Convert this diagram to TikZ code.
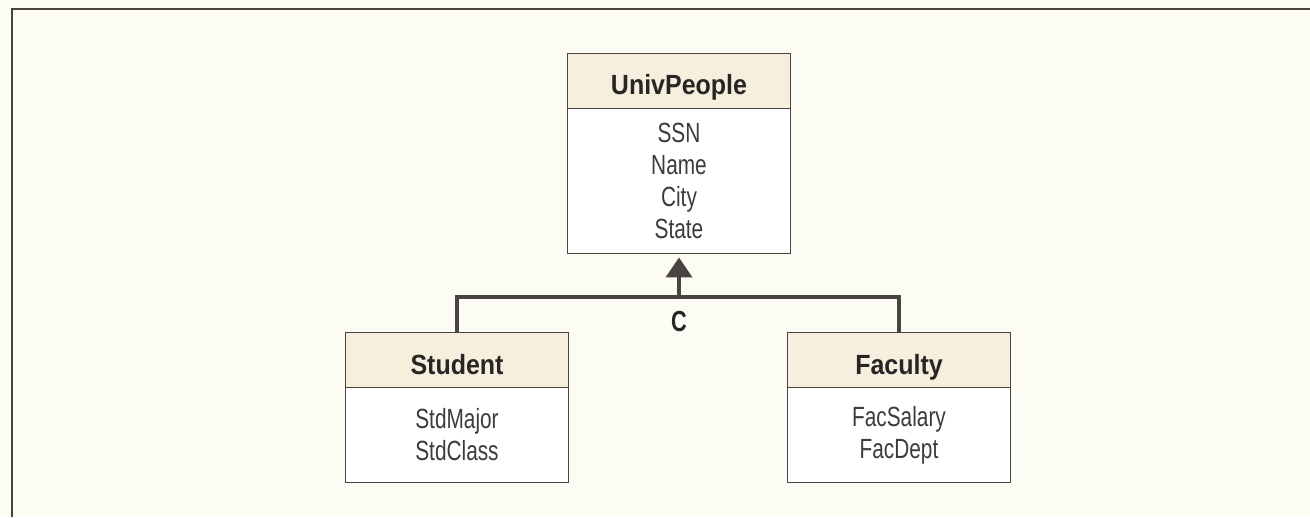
\documentclass[tikz,border=0pt]{standalone}
\usepackage{fontspec}
\usepackage{tikz}
\setmainfont{Liberation Sans}
\newfontfamily\headfont[FakeStretch=0.9]{Liberation Sans}
\newfontfamily\bodyfont[FakeStretch=0.75]{Liberation Sans}
\definecolor{headfill}{RGB}{247, 239, 222}
\definecolor{paper}{RGB}{253, 252, 244}
\definecolor{linegray}{RGB}{72, 68, 64}
\definecolor{textgray}{RGB}{40, 38, 36}
\definecolor{bodygray}{RGB}{62, 60, 58}
\usetikzlibrary{arrows.meta,positioning}
\tikzset{
  classhead/.style = {draw=linegray, fill=headfill, line width=1pt,
    inner sep=0pt, outer sep=0pt, minimum width=4.46cm, minimum height=1.1cm,
    text height=0.56cm, text depth=0pt, text=textgray,
    font=\headfont\bfseries\fontsize{15.8}{18}\selectfont},% class name
  classbody/.style = {draw=linegray, fill=white, line width=1pt,
    inner sep=0pt, outer sep=0pt, minimum width=4.46cm, align=center,
    text=bodygray, font=\bodyfont\fontsize{15.8}{18.14}\selectfont},% attributes
  genline/.style = {draw=linegray, line width=2.2pt},% generalization
  clabel/.style = {inner sep=0pt, text=textgray,
    font=\bodyfont\bfseries\fontsize{16.5}{18}\selectfont},
}

\begin{document}
\begin{tikzpicture}[x=0.02cm, y=-0.02cm, >={Triangle[width=0.52cm, length=0.4cm]}]
\path[use as bounding box, fill=paper] (0,0) rectangle (1310,517);
\draw[linegray, line width=1.1pt] (12,517) |- (1310,9);

\node [classhead] (univ-head) at (679,81) {UnivPeople};
\node [classbody, minimum height=2.9cm, below=0pt of univ-head] (univ-body)
  {SSN\\Name\\City\\State};

\node [classhead] (stud-head) at (457,360) {Student};
\node [classbody, minimum height=1.9cm, below=0pt of stud-head] (stud-body)
  {StdMajor\\StdClass};

\node [classhead] (fac-head) at (899,360) {Faculty};
\node [classbody, minimum height=1.9cm, below=0pt of fac-head] (fac-body)
  {FacSalary\\FacDept};

\coordinate (bar) at (679,297);
\draw [genline] (stud-head.north) |- (bar) -| (fac-head.north);
\draw [genline, ->, shorten >=0.08cm] (bar) -- (univ-body.south);
\node [clabel] (cover) at (679,322) {C};
\end{tikzpicture}
\end{document}
